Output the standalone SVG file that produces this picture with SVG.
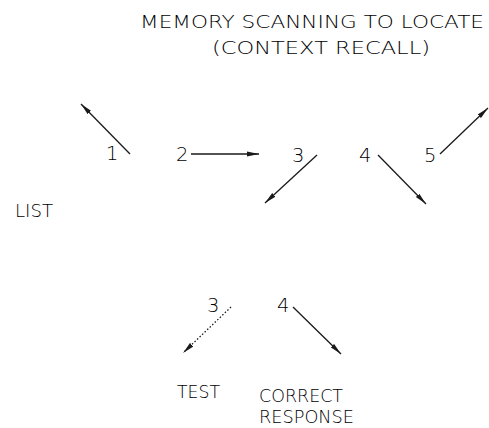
<svg xmlns="http://www.w3.org/2000/svg" width="489" height="428" viewBox="0 0 489 428">
<style>
text{font-family:"DejaVu Sans","Liberation Sans",sans-serif;font-weight:200;font-size:18.5px;fill:#000}
.n{font-size:19.5px}
.c{stroke:#1a1a1a;stroke-width:1.3;fill:none}
.d{stroke-dasharray:1.5 2}
</style>
<defs>
<marker id="ah" viewBox="0 0 12 6" refX="12" refY="3" markerWidth="12" markerHeight="6" markerUnits="userSpaceOnUse" orient="auto">
<path d="M0,0.6 L12,3 L0,5.4 Z" fill="#1a1a1a"/>
</marker>
</defs>
<rect width="489" height="428" fill="#fff"/>
<g id="title">
<text x="140" y="28" textLength="344" lengthAdjust="spacingAndGlyphs">MEMORY SCANNING TO LOCATE</text>
<text x="212" y="54" textLength="218" lengthAdjust="spacingAndGlyphs">(CONTEXT RECALL)</text>
</g>
<g id="list"><text x="15" y="217" textLength="38" lengthAdjust="spacingAndGlyphs">LIST</text></g>
<g id="n1"><text class="n" x="106" y="160">1</text></g>
<g id="n2"><text class="n" x="176" y="161">2</text></g>
<g id="n3"><text class="n" x="292" y="162">3</text></g>
<g id="n4"><text class="n" x="359" y="162">4</text></g>
<g id="n5"><text class="n" x="424" y="162">5</text></g>
<g id="n3b"><text class="n" x="207" y="312">3</text></g>
<g id="n4b"><text class="n" x="277" y="312">4</text></g>
<g id="test"><text x="177" y="398" textLength="43" lengthAdjust="spacingAndGlyphs">TEST</text></g>
<g id="correct">
<text x="259" y="402" textLength="84" lengthAdjust="spacingAndGlyphs">CORRECT</text>
<text x="259" y="423" textLength="95" lengthAdjust="spacingAndGlyphs">RESPONSE</text>
</g>
<g id="connectors">
<line class="c" x1="130" y1="154" x2="81" y2="104" marker-end="url(#ah)"/>
<line class="c" x1="191" y1="154" x2="259" y2="154" marker-end="url(#ah)"/>
<line class="c" x1="317" y1="155" x2="265" y2="203" marker-end="url(#ah)"/>
<line class="c" x1="378" y1="155" x2="426" y2="204" marker-end="url(#ah)"/>
<line class="c" x1="440" y1="154" x2="488" y2="108" marker-end="url(#ah)"/>
<line class="c d" x1="231" y1="307" x2="183" y2="353" marker-end="url(#ah)"/>
<line class="c" x1="293" y1="307" x2="341" y2="354" marker-end="url(#ah)"/>
</g>
</svg>
